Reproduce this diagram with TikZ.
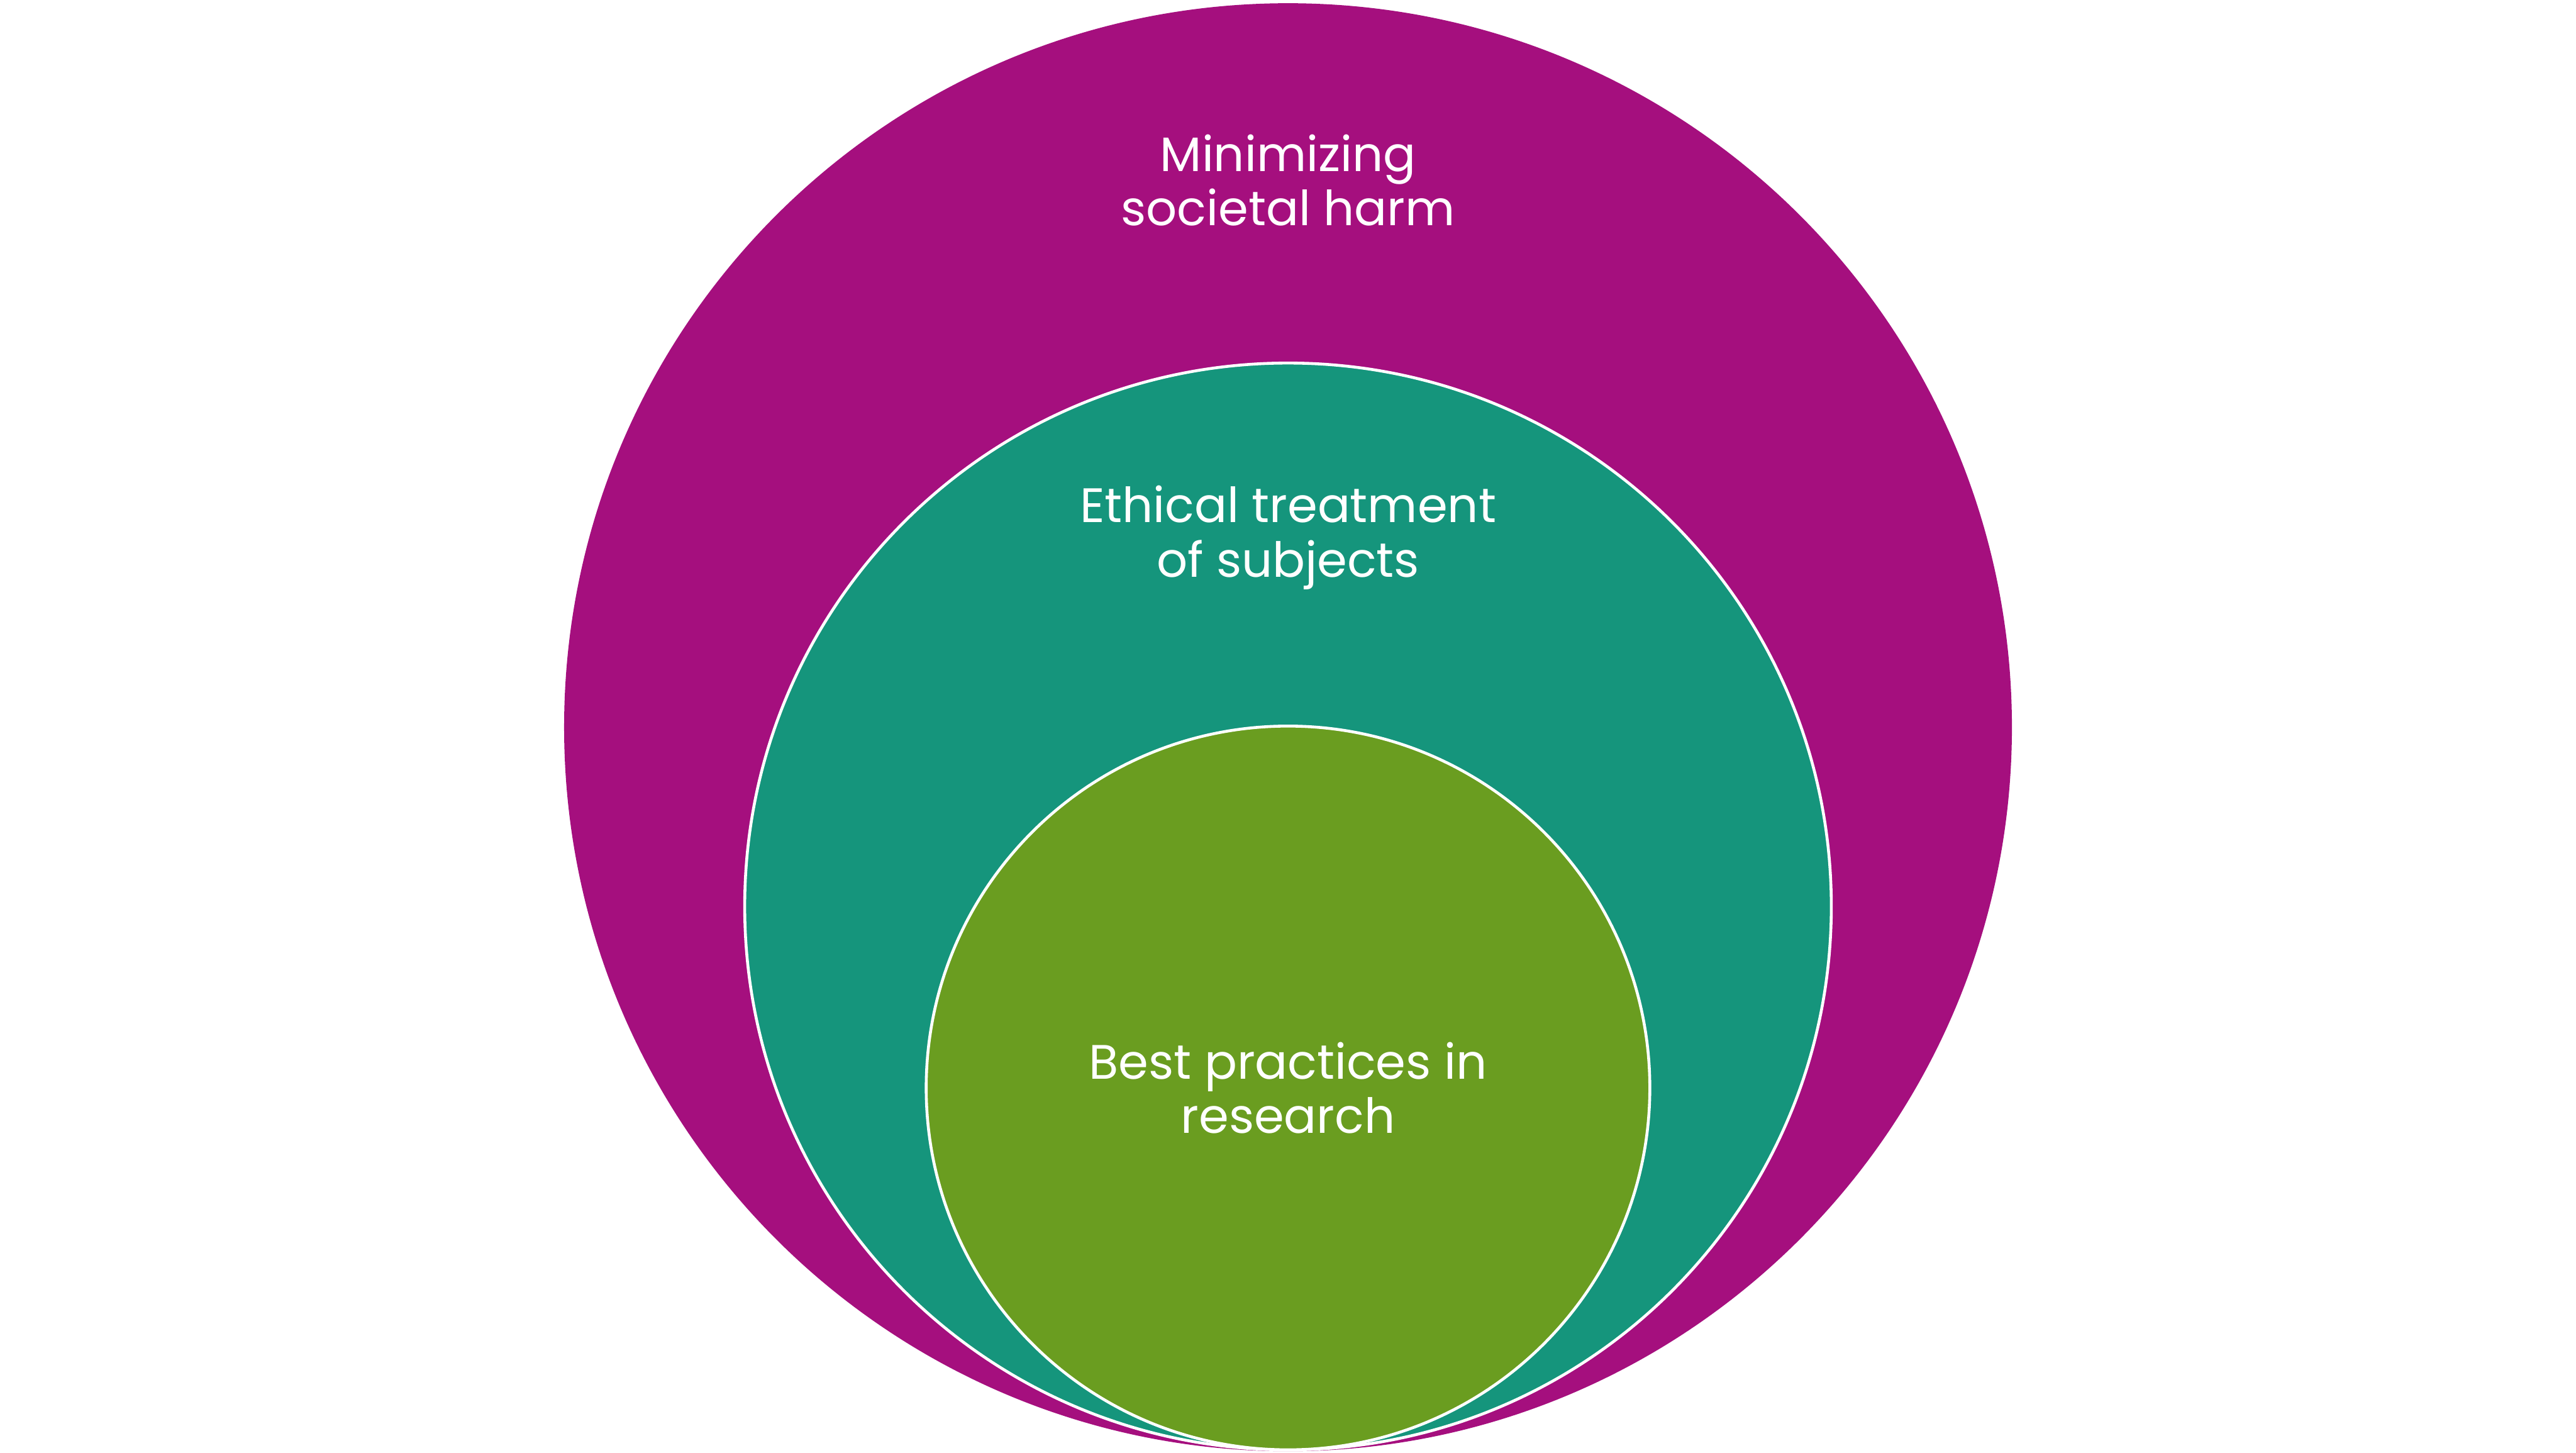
\documentclass[tikz,border=0pt]{standalone}
\usepackage{fontspec}
\setmainfont{Poppins}
\usepackage{tikz}
\definecolor{HarmPurple}{RGB}{165,15,126}
\definecolor{SubjectTeal}{RGB}{21,149,124}
\definecolor{ResearchGreen}{RGB}{106,157,32}

\tikzset{
  ring/.style={circle, draw=white, line width=1.4pt, inner sep=0pt},
  ringtext/.style={text=white, align=center, font=\fontsize{23.5}{26.5}\selectfont}
}

\begin{document}
\begin{tikzpicture}
\useasboundingbox (0,0) rectangle (44,24.81);
% nested circles, all touching at the bottom
\node[ring, draw=HarmPurple, fill=HarmPurple, minimum size=24.68cm] (harm) at (22,12.39) {};
\node[ring, fill=SubjectTeal, minimum size=18.56cm] (subjects) at (22,9.33) {};
\node[ring, fill=ResearchGreen, minimum size=12.36cm] (research) at (22,6.23) {};

\node[ringtext] (harmtext) at (22,21.73) {Minimizing\\societal harm};
\node[ringtext] (subjectstext) at (22,15.63) {Ethical treatment\\of subjects};
\node[ringtext] (researchtext) at (research.center) {Best practices in\\research};
\end{tikzpicture}
\end{document}
